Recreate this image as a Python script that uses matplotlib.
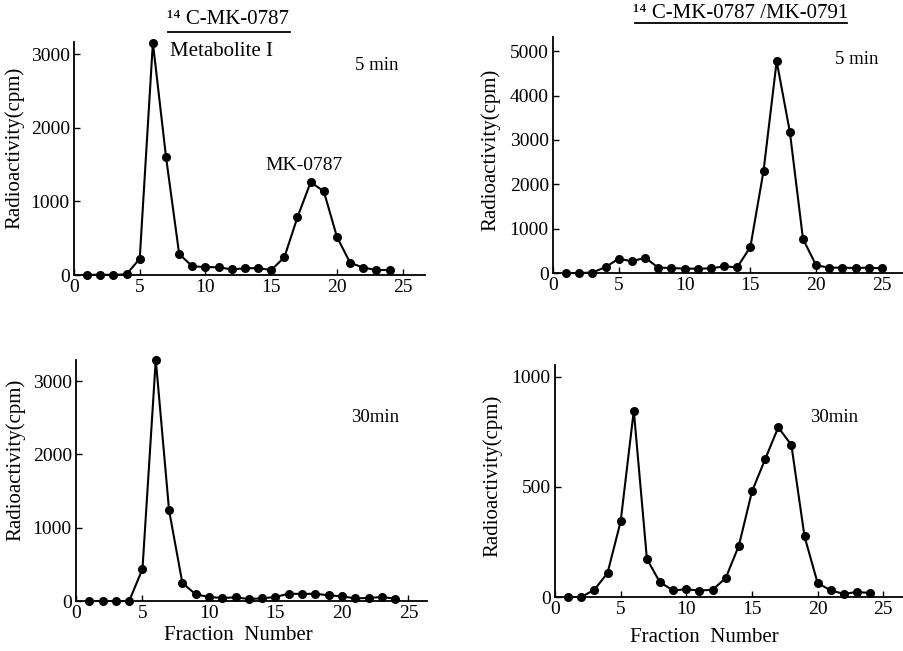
import matplotlib
matplotlib.use("Agg")
import matplotlib.pyplot as plt
from matplotlib.lines import Line2D

plt.rcParams['font.family'] = ['Liberation Serif', 'DejaVu Serif']

fractions_a = list(range(1, 25))
cpm_tl = [0, 5, 0, 10, 222, 3160, 1606, 285, 118, 109, 104, 77, 90, 95, 68,
          240, 787, 1262, 1140, 520, 167, 100, 68, 68]
fractions_b = list(range(1, 26))
cpm_tr = [0, 0, 10, 135, 323, 263, 346, 120, 113, 98, 98, 105, 150, 128, 586,
          2300, 4774, 3180, 767, 173, 120, 120, 113, 120, 105]
cpm_bl = [0, 0, 0, 0, 437, 3295, 1238, 246, 91, 55, 41, 50, 27, 36, 55,
          100, 96, 100, 77, 64, 36, 41, 55, 32]
cpm_br = [0, 0, 33, 109, 343, 846, 172, 66, 30, 35, 29, 33, 86, 233, 479,
          625, 770, 690, 275, 63, 30, 14, 23, 18]

xticks = [0, 5, 10, 15, 20, 25]
yticks_tl = [0, 1000, 2000, 3000]
yticks_tr = [0, 1000, 2000, 3000, 4000, 5000]
yticks_bl = [0, 1000, 2000, 3000]
yticks_br = [0, 500, 1000]

W, H = 904, 651
fig = plt.figure(figsize=(W / 100, H / 100), dpi=100)


def make_ax(l, r, b, t):
    return fig.add_axes([l / W, (H - b) / H, (r - l) / W, (b - t) / H])


def ftext(x, y, s, **kw):
    fig.text(x / W, 1 - y / H, s, **kw)


def style(ax, xs, ys, xmax, ymax, yticks, ylab_x, ylab_y):
    ax.plot(xs, ys, color='black', lw=1.5, marker='o', ms=5.5, clip_on=False)
    ax.set_xlim(0, xmax)
    ax.set_ylim(0, ymax)
    ax.set_xticks(xticks)
    ax.set_yticks(yticks)
    for s in ['top', 'right']:
        ax.spines[s].set_visible(False)
    for s in ['left', 'bottom']:
        ax.spines[s].set_linewidth(1.3)
    ax.tick_params(direction='in', length=4, width=1, labelsize=14, pad=3)
    ftext(ylab_x, ylab_y, 'Radioactivity(cpm)', rotation=90, ha='center',
          va='center', fontsize=15)


ax1 = make_ax(74, 425, 275, 42)
style(ax1, fractions_a, cpm_tl, 26.7, 3170, yticks_tl, 15, 148)
ax2 = make_ax(553, 903, 273, 37)
style(ax2, fractions_b, cpm_tr, 26.6, 5320, yticks_tr, 491, 150)
ax3 = make_ax(76, 427, 601, 360)
style(ax3, fractions_a, cpm_bl, 26.4, 3290, yticks_bl, 16, 460)
ax4 = make_ax(555, 903, 597, 365)
style(ax4, fractions_a, cpm_br, 26.5, 1053, yticks_br, 493, 476)

ftext(238, 636, 'Fraction  Number', ha='center', va='center', fontsize=15)
ftext(704, 638, 'Fraction  Number', ha='center', va='center', fontsize=15)

ftext(228, 20, '¹⁴ C-MK-0787', ha='center', va='center', fontsize=15)
fig.add_artist(Line2D([168 / W, 290 / W], [1 - 32 / H, 1 - 32 / H], color='black', lw=1.3))
ftext(170, 51, 'Metabolite I', ha='left', va='center', fontsize=15)
ftext(741, 13, '¹⁴ C-MK-0787 /MK-0791', ha='center', va='center', fontsize=15)
fig.add_artist(Line2D([635 / W, 847 / W], [1 - 23 / H, 1 - 23 / H], color='black', lw=1.3))

ftext(377, 66, '5 min', ha='center', va='center', fontsize=13.5)
ftext(857, 59, '5 min', ha='center', va='center', fontsize=13.5)
ftext(304, 165, 'MK-0787', ha='center', va='center', fontsize=14)
ftext(375, 418, '30min', ha='center', va='center', fontsize=13.5)
ftext(834, 418, '30min', ha='center', va='center', fontsize=13.5)

fig.savefig('out.png', dpi=100)
